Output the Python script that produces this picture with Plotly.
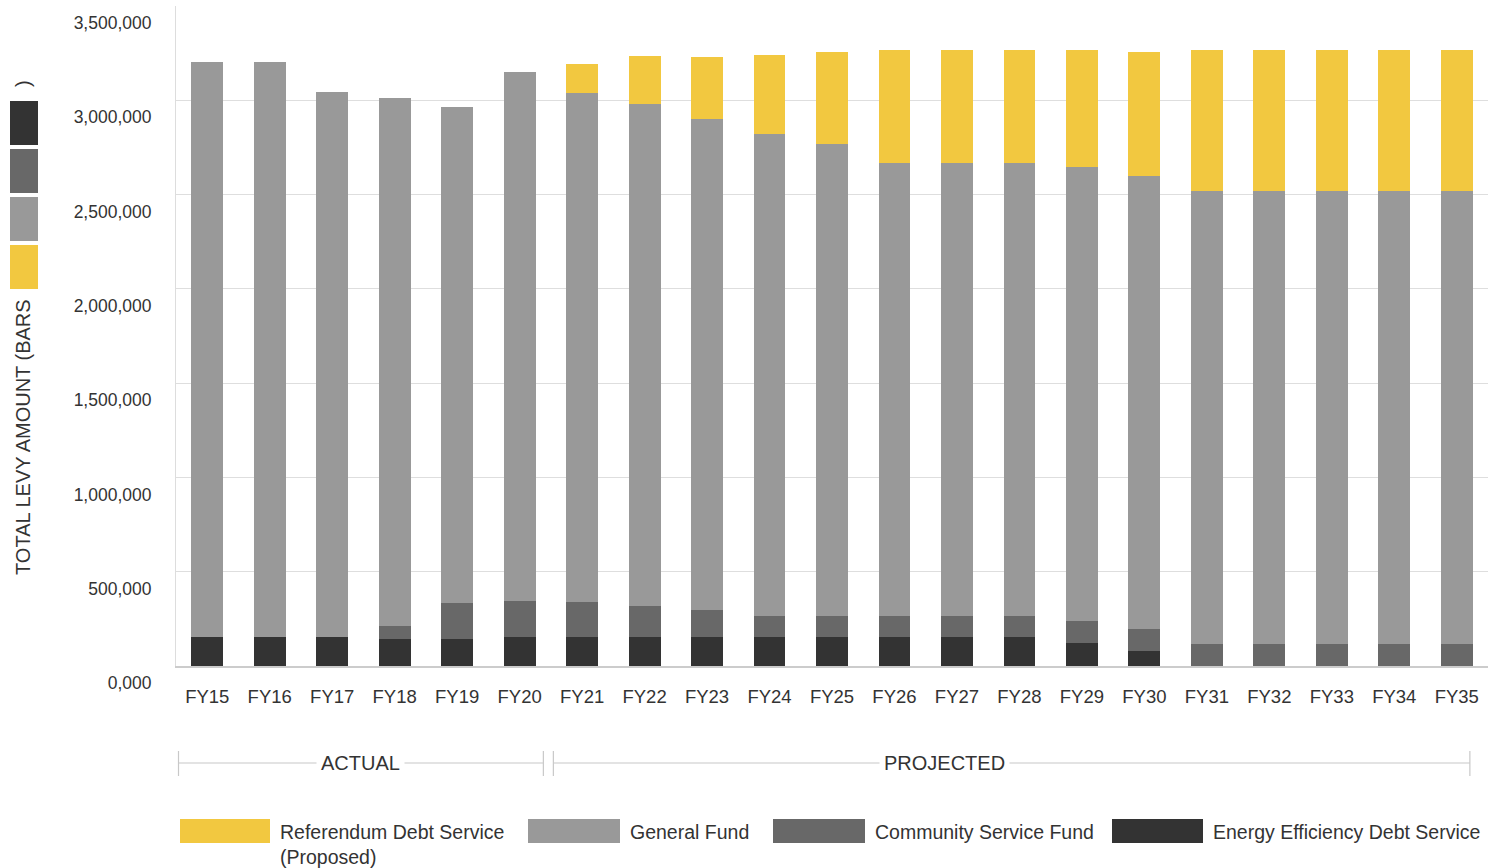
import plotly.graph_objects as go

categories = ["FY15", "FY16", "FY17", "FY18", "FY19", "FY20", "FY21", "FY22", "FY23", "FY24", "FY25",
              "FY26", "FY27", "FY28", "FY29", "FY30", "FY31", "FY32", "FY33", "FY34", "FY35"]

energy_efficiency = [154000, 154000, 154000, 143000, 143000, 154000, 154000, 154000, 154000, 154000, 154000,
                     154000, 154000, 154000, 122000, 80000, 0, 0, 0, 0, 0]
community_service = [0, 0, 0, 69000, 191000, 191000, 185000, 164000, 143000, 111000, 111000,
                     111000, 111000, 111000, 117000, 116000, 117000, 117000, 117000, 117000, 117000]
general_fund = [3047000, 3047000, 2888000, 2798000, 2629000, 2803000, 2698000, 2661000, 2602000, 2555000, 2502000,
                2401000, 2401000, 2401000, 2406000, 2401000, 2401000, 2401000, 2401000, 2401000, 2401000]
referendum = [0, 0, 0, 0, 0, 0, 154000, 254000, 329000, 418000, 487000,
              599000, 599000, 599000, 620000, 657000, 747000, 747000, 747000, 747000, 747000]

series_names = ["Energy Efficiency Debt Service", "Community Service Fund", "General Fund",
                "Referendum Debt Service<br>(Proposed)"]
y_tickvals = [0, 500000, 1000000, 1500000, 2000000, 2500000, 3000000, 3500000]
y_ticktext = ["0,000", "500,000", "1,000,000", "1,500,000", "2,000,000", "2,500,000", "3,000,000", "3,500,000"]

C_DARK = "#333333"
C_MID = "#686868"
C_GRAY = "#999999"
C_YEL = "#F2C840"
TXT = "#333333"
FONT = "Liberation Sans, Arial, sans-serif"

W, H = 1491, 868
L, R, T, B = 176, 3, 6, 202
PW, PH = W - L - R, H - T - B


def xp(px):
    return (px - L) / PW


def yp(py):
    return (H - B - py) / PH


fig = go.Figure()
for vals, col, name in zip([energy_efficiency, community_service, general_fund, referendum],
                           [C_DARK, C_MID, C_GRAY, C_YEL], series_names):
    fig.add_trace(go.Bar(x=categories, y=vals, name=name, marker=dict(color=col, line=dict(width=0)),
                         width=0.51, showlegend=False))

shapes = []
annotations = []

# y-axis title with inline colour squares
annotations.append(dict(xref="paper", yref="paper", x=xp(23), y=yp(437), xanchor="center", yanchor="middle",
                        text="TOTAL LEVY AMOUNT (BARS", textangle=-90, showarrow=False,
                        font=dict(size=20, color=TXT, family=FONT)))
annotations.append(dict(xref="paper", yref="paper", x=xp(23), y=yp(84), xanchor="center", yanchor="middle",
                        text=")", textangle=-90, showarrow=False, font=dict(size=20, color=TXT, family=FONT)))
for (y0, y1), col in zip([(101, 145), (149, 193), (197, 241), (245, 289)], [C_DARK, C_MID, C_GRAY, C_YEL]):
    shapes.append(dict(type="rect", xref="paper", yref="paper", x0=xp(10), x1=xp(38), y0=yp(y1), y1=yp(y0),
                       fillcolor=col, line=dict(width=0)))

# ACTUAL / PROJECTED brackets
i20 = categories.index("FY20")
i35 = categories.index("FY35")
brackets = [(-0.46, i20 + 0.38, 2.45, "ACTUAL"), (i20 + 0.54, i35 + 0.21, 11.8, "PROJECTED")]
for x0, x1, xt, label in brackets:
    shapes.append(dict(type="line", xref="x", yref="paper", x0=x0, x1=x1, y0=yp(763), y1=yp(763),
                       line=dict(color="#c8c8c8", width=1.2)))
    for xx in (x0, x1):
        shapes.append(dict(type="line", xref="x", yref="paper", x0=xx, x1=xx, y0=yp(751), y1=yp(776),
                           line=dict(color="#c8c8c8", width=1.2)))
    annotations.append(dict(xref="x", yref="paper", x=xt, y=yp(763), xanchor="center", yanchor="middle",
                            text=label, showarrow=False, bgcolor="white", borderpad=4,
                            font=dict(size=20, color=TXT, family=FONT)))

# custom legend
legend_items = [(180, 270, C_YEL, "Referendum Debt Service<br>(Proposed)"),
                (528, 620, C_GRAY, "General Fund"),
                (773, 865, C_MID, "Community Service Fund"),
                (1112, 1203, C_DARK, "Energy Efficiency Debt Service")]
for x0, x1, col, label in legend_items:
    shapes.append(dict(type="rect", xref="paper", yref="paper", x0=xp(x0), x1=xp(x1), y0=yp(843), y1=yp(819),
                       fillcolor=col, line=dict(width=0)))
    annotations.append(dict(xref="paper", yref="paper", x=xp(x1 + 8), y=yp(819), xanchor="left", yanchor="top",
                            text=label, showarrow=False, align="left",
                            font=dict(size=19.5, color=TXT, family=FONT)))

fig.update_layout(
    width=W, height=H, margin=dict(l=L, r=R, t=T, b=B),
    plot_bgcolor="white", paper_bgcolor="white", barmode="stack",
    font=dict(family=FONT, color=TXT),
    shapes=shapes, annotations=annotations, showlegend=False,
)
fig.update_xaxes(showgrid=False, showline=True, linecolor="#cccccc", linewidth=1.5, ticks="",
                 tickfont=dict(size=18.5, color=TXT, family=FONT), ticklabelstandoff=13,
                 range=[-0.5, len(categories) - 0.5])
fig.update_yaxes(range=[0, 3500000], tickvals=y_tickvals, ticktext=y_ticktext, showgrid=True,
                 gridcolor="#dedede", gridwidth=1.2, showline=True, linecolor="#dddddd", zeroline=False,
                 ticks="", ticklabelshift=17, ticklabelstandoff=20,
                 tickfont=dict(size=17.5, color=TXT, family=FONT))

fig.write_html("out.html")
